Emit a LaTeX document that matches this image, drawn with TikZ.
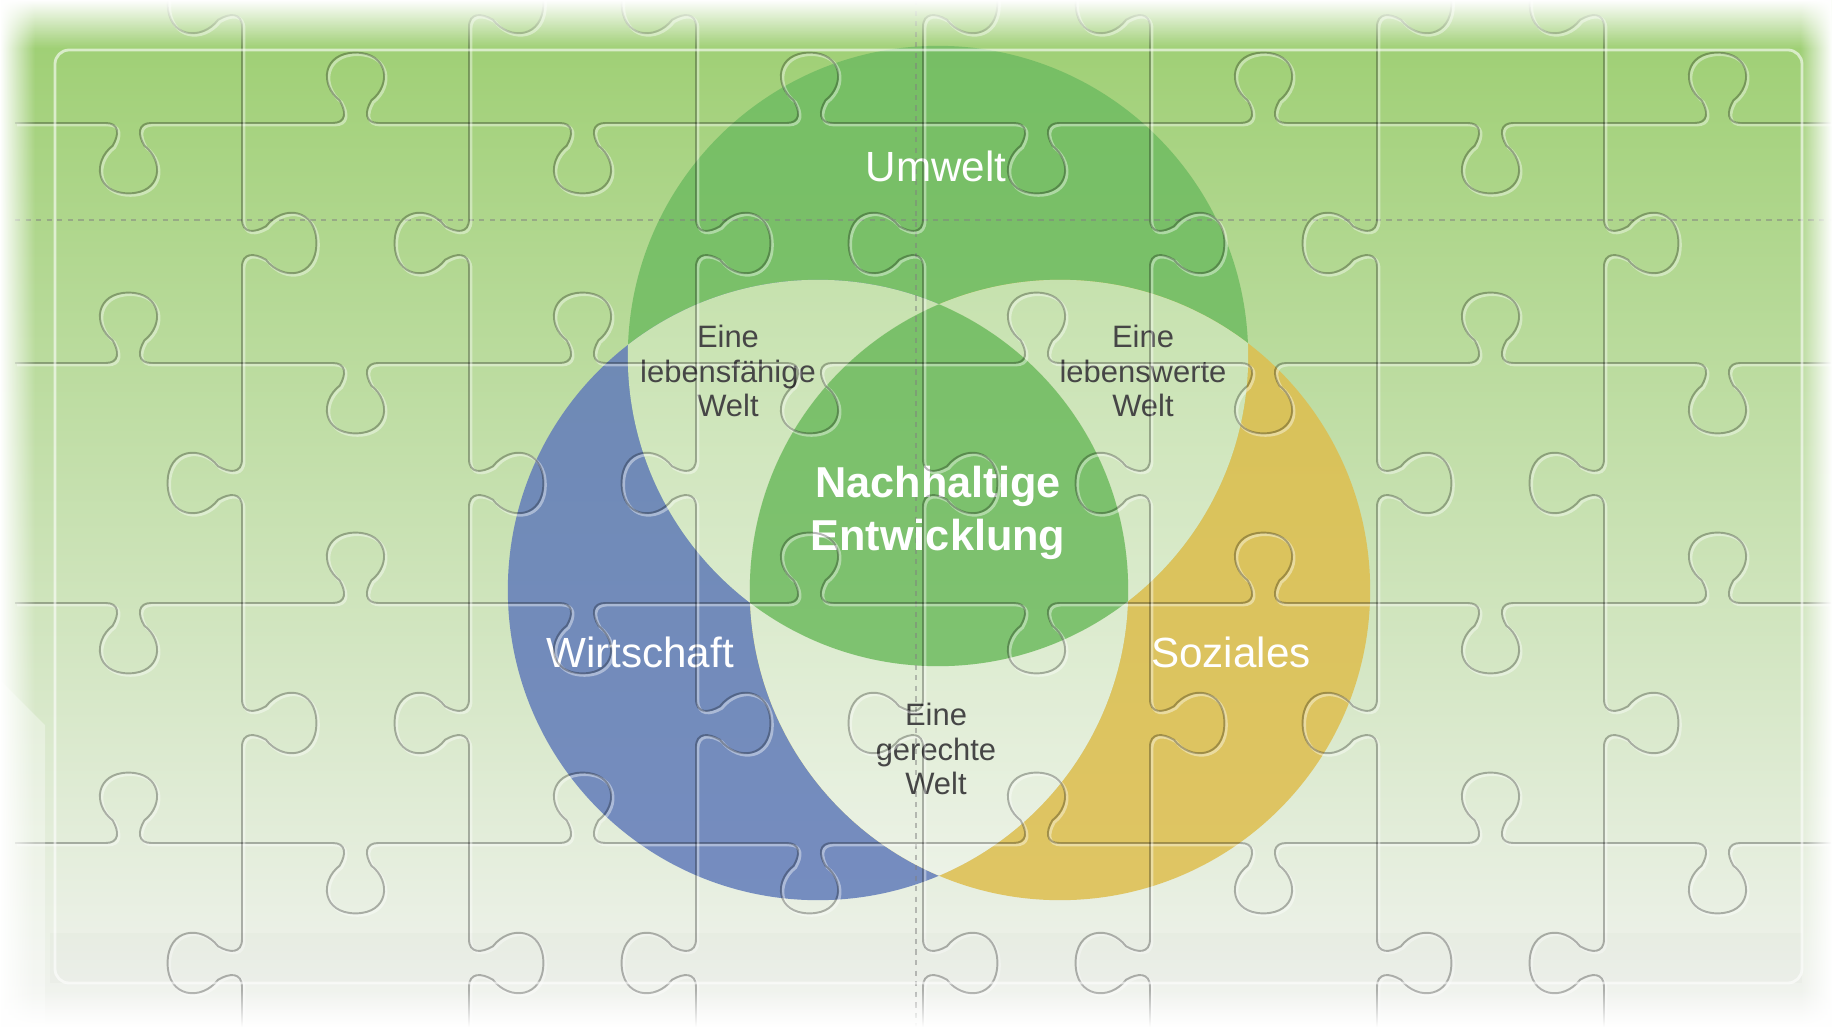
\documentclass[tikz,border=0pt]{standalone}
\usepackage{fontspec}
\setmainfont{Liberation Sans}
\usepackage{xcolor}
\usepackage{tikz}
\usetikzlibrary{fadings}

\definecolor{bgtop}{RGB}{156,206,112}
\definecolor{bgmid}{RGB}{204,226,180}
\definecolor{bgbot}{RGB}{243,244,242}
\definecolor{umweltgreen}{RGB}{112,188,98}
\definecolor{wirtblue}{RGB}{98,124,186}
\definecolor{sozyellow}{RGB}{222,190,78}
\definecolor{labelgray}{RGB}{70,70,70}

% one puzzle edge from (0,0) to (1,0), knob side given by #1
\newcommand{\knobedge}[1]{(0,0) -- (0.40,0) .. controls (0.46,0) and (0.46,#1*0.05) .. (0.43,#1*0.10) .. controls (0.34,#1*0.17) and (0.355,#1*0.31) .. (0.50,#1*0.31) .. controls (0.645,#1*0.31) and (0.66,#1*0.17) .. (0.57,#1*0.10) .. controls (0.54,#1*0.05) and (0.54,0) .. (0.60,0) -- (1,0)}

\begin{document}
\begin{tikzpicture}[
x=0.01cm, y=-0.01cm,
bgshade/.style={top color=bgtop, middle color=bgmid, bottom color=bgbot},
circlefill/.style={opacity=0.85},
paletint/.style={fill=white, opacity=0.25},
seam/.style={draw=black, opacity=0.28, line width=0.55pt},
seamlight/.style={draw=white, opacity=0.4, line width=0.8pt},
guide/.style={draw=gray, opacity=0.5, line width=0.5pt, dash pattern=on 1.5pt off 1.5pt},
biglabel/.style={text=white, font=\fontsize{12}{14}\selectfont},
corelabel/.style={text=white, align=center, font=\fontsize{12.3}{15}\selectfont\bfseries},
smalllabel/.style={text=labelgray, align=center, font=\fontsize{8.8}{9.9}\selectfont}
]
\useasboundingbox (0,0) rectangle (1832,1027);

% Background
\fill[white] (0,0) rectangle (1832,1027);
\shade[bgshade] (0,0) rectangle (1832,1027);

% Circle centres
\coordinate (um) at (938,356);
\coordinate (wi) at (818,590);
\coordinate (so) at (1060,590);

% Circles
\fill[umweltgreen, circlefill] (um) circle[radius=3.1cm];
\fill[wirtblue, circlefill] (wi) circle[radius=3.1cm];
\fill[sozyellow, circlefill] (so) circle[radius=3.1cm];

% Pairwise overlaps
\begin{scope}
\clip (um) circle[radius=3.1cm];
\clip (wi) circle[radius=3.1cm];
\shade[bgshade] (0,0) rectangle (1832,1027);
\fill[paletint] (0,0) rectangle (1832,1027);
\end{scope}
\begin{scope}
\clip (um) circle[radius=3.1cm];
\clip (so) circle[radius=3.1cm];
\shade[bgshade] (0,0) rectangle (1832,1027);
\fill[paletint] (0,0) rectangle (1832,1027);
\end{scope}
\begin{scope}
\clip (wi) circle[radius=3.1cm];
\clip (so) circle[radius=3.1cm];
\shade[bgshade] (0,0) rectangle (1832,1027);
\fill[paletint] (0,0) rectangle (1832,1027);
\end{scope}

% Centre
\begin{scope}
\clip (um) circle[radius=3.1cm];
\clip (wi) circle[radius=3.1cm];
\clip (so) circle[radius=3.1cm];
\shade[bgshade] (0,0) rectangle (1832,1027);
\fill[umweltgreen, circlefill] (0,0) rectangle (1832,1027);
\end{scope}

% Guide lines
\coordinate (gl) at (15,220);
\coordinate (gr) at (1832,220);
\coordinate (gt) at (916,0);
\coordinate (gb) at (916,1027);
\draw[guide] (gl) -- (gr);
\draw[guide] (gt) -- (gb);

% Labels
\node[biglabel] (umwelt) at (936,166) {Umwelt};
\node[biglabel] (wirtschaft) at (640,652) {Wirtschaft};
\node[biglabel] (soziales) at (1231,652) {Soziales};
\node[corelabel] (kern) at (938,513) {Nachhaltige\\Entwicklung};
\node[smalllabel] (faehig) at (728,371) {Eine\\lebensfähige\\Welt};
\node[smalllabel] (wert) at (1143,371) {Eine\\lebenswerte\\Welt};
\node[smalllabel] (gerecht) at (936,749) {Eine\\gerechte\\Welt};

% Puzzle seams
\foreach \j in {0,...,3}
  \foreach \i in {0,...,7} {
    \pgfmathsetmacro{\dir}{ifthenelse(mod(\i+\j,2)==0,1,-1)}
    \draw[seamlight, shift={(17+227*\i,125+240*\j)}, scale=227] \knobedge{\dir};
    \draw[seam, shift={(15+227*\i,123+240*\j)}, scale=227] \knobedge{\dir};
  }
\foreach \i in {1,...,7}
  \foreach \k in {-1,...,3} {
    \pgfmathsetmacro{\dir}{ifthenelse(mod(\i+\k,2)==0,1,-1)}
    \draw[seamlight, shift={(17+227*\i,125+240*\k)}, rotate=-90, scale=240] \knobedge{\dir};
    \draw[seam, shift={(15+227*\i,123+240*\k)}, rotate=-90, scale=240] \knobedge{\dir};
  }

% Frame
\fill[black, opacity=0.015] (50,933) rectangle (1802,983);
\draw[white, opacity=0.6, line width=0.8pt, rounded corners=4pt] (55,50) rectangle (1802,983);
\fill[white, opacity=0.35] (0,680) -- (45,725) -- (45,1027) -- (0,1027) -- cycle;

% Faded edges
\fill[white, path fading=south] (0,0) rectangle (1832,48);
\fill[white, path fading=east] (0,0) rectangle (35,1027);
\fill[white, path fading=west] (1800,0) rectangle (1832,1027);
\fill[white, path fading=north] (0,990) rectangle (1832,1027);

\end{tikzpicture}
\end{document}
